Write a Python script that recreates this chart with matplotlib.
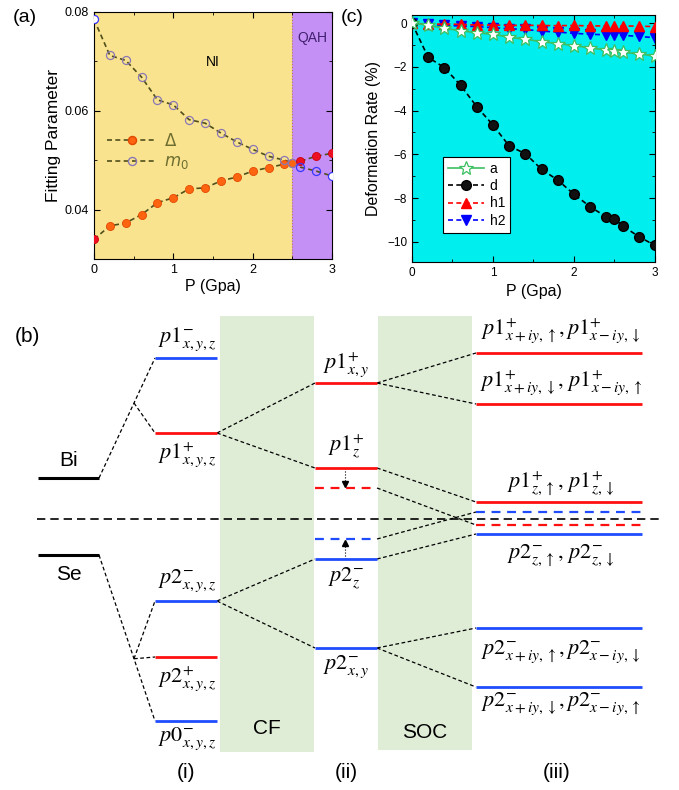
import matplotlib
matplotlib.use('Agg')
import matplotlib.pyplot as plt
from matplotlib.lines import Line2D
from matplotlib.ticker import MultipleLocator

plt.rcParams['font.family'] = ['Liberation Sans', 'DejaVu Sans']

# ---------------- data: panel (a) ----------------
P_a = [0, 0.2, 0.4, 0.6, 0.8, 1.0, 1.2, 1.4, 1.6, 1.8, 2.0, 2.2, 2.4, 2.5, 2.6, 2.8, 3.0]
delta = [0.0340, 0.0367, 0.0373, 0.0390, 0.0414, 0.0424, 0.0442, 0.0444, 0.0458, 0.0466,
         0.0478, 0.0485, 0.0492, 0.0495, 0.0498, 0.0508, 0.0514]
m0 = [0.0785, 0.0712, 0.0702, 0.0668, 0.0622, 0.0612, 0.0582, 0.0575, 0.0555, 0.0537,
      0.0522, 0.0508, 0.0500, 0.0495, 0.0486, 0.0478, 0.0468]
P_transition = 2.5

# ---------------- data: panel (c) ----------------
P_c = [0, 0.2, 0.4, 0.6, 0.8, 1.0, 1.2, 1.4, 1.6, 1.8, 2.0, 2.2, 2.4, 2.5, 2.6, 2.8, 3.0]
rate_a = [0, -0.08, -0.23, -0.34, -0.43, -0.50, -0.64, -0.73, -0.84, -0.93, -1.02, -1.13,
          -1.22, -1.27, -1.33, -1.40, -1.50]
rate_d = [0, -1.56, -2.03, -2.84, -3.82, -4.66, -5.62, -5.97, -6.69, -7.18, -7.83, -8.40,
          -8.87, -8.96, -9.27, -9.77, -10.17]
rate_h1 = [0, -0.05, -0.03, -0.05, -0.08, -0.08, -0.10, -0.09, -0.10, -0.11, -0.10, -0.12,
           -0.12, -0.13, -0.12, -0.13, -0.15]
rate_h2 = [0, -0.05, -0.10, -0.12, -0.15, -0.20, -0.25, -0.28, -0.36, -0.40, -0.46, -0.50,
           -0.53, -0.55, -0.55, -0.60, -0.66]

# ---------------- data: panel (b) schematic (energy levels, pixel-y) ----------------
atom_names = ['Bi', 'Se']
atom_levels = [478, 555]
lev_i = [358, 433, 601, 657, 721]
lev_i_col = ['b', 'r', 'b', 'r', 'b']
lev_i_lab = [r'$p1^{-}_{x,y,z}$', r'$p1^{+}_{x,y,z}$', r'$p2^{-}_{x,y,z}$',
             r'$p2^{+}_{x,y,z}$', r'$p0^{-}_{x,y,z}$']
lev_i_off = [-19, 22, -20, 22, 18]
lev_ii = [383, 468, 488, 539, 559, 648]
lev_ii_col = ['r', 'r', 'r', 'b', 'b', 'b']
lev_ii_dash = [False, False, True, True, False, False]
lev_ii_lab = [r'$p1^{+}_{x,y}$', r'$p1^{+}_{z}$', None, None, r'$p2^{-}_{z}$', r'$p2^{-}_{x,y}$']
lev_ii_off = [-18, -21, 0, 0, 19, 19]
lev_iii = [353, 404, 502, 512, 525, 534, 628, 687]
lev_iii_col = ['r', 'r', 'r', 'b', 'r', 'b', 'b', 'b']
lev_iii_dash = [False, False, False, True, True, False, False, False]
lev_iii_lab = [r'$p1^{+}_{x+iy,\uparrow},p1^{+}_{x-iy,\downarrow}$',
               r'$p1^{+}_{x+iy,\downarrow},\,p1^{+}_{x-iy,\uparrow}$',
               r'$p1^{+}_{z,\uparrow},\,p1^{+}_{z,\downarrow}$', None, None,
               r'$p2^{-}_{z,\uparrow},\,p2^{-}_{z,\downarrow}$',
               r'$p2^{-}_{x+iy,\uparrow},p2^{-}_{x-iy,\downarrow}$',
               r'$p2^{-}_{x+iy,\downarrow},p2^{-}_{x-iy,\uparrow}$']
lev_iii_off = [-22, -21, -19, 0, 0, 21, 24, 17]
# connections i -> ii   (index in i, index in ii)
conn_i_ii = [(1, 0), (1, 1), (2, 4), (2, 5)]
# connections ii -> iii
conn_ii_iii = [(0, 0), (0, 1), (1, 2), (2, 4), (3, 3), (4, 5), (5, 6), (5, 7)]
col_labels = ['(i)', '(ii)', '(iii)']
band_labels = ['CF', 'SOC']

# ---------------- figure ----------------
W, H = 679, 790
fig = plt.figure(figsize=(W / 100, H / 100), dpi=100)

# ===== panel (b) : schematic in pixel coordinates =====
axb = fig.add_axes([0, 0, 1, 1], zorder=0)
axb.set_xlim(0, W)
axb.set_ylim(H, 0)
axb.axis('off')
RED = '#ff1010'
BLUE = '#1f4cff'
cmap = {'r': RED, 'b': BLUE}
GREEN = '#e0edd6'
atom_x = (38, 99)
xi = (155, 217)
xii = (315, 377)
xiii = (476, 642)
split_x = 134
dash_k = dict(color='k', lw=0.9, ls=(0, (3, 2)))
lab_kw = dict(fontsize=16, math_fontfamily='stix', ha='center', va='center')

# bands
axb.add_patch(plt.Rectangle((220, 316), 94, 436, color=GREEN, zorder=0, lw=0))
axb.add_patch(plt.Rectangle((378, 316), 94, 434, color=GREEN, zorder=0, lw=0))
axb.text(267, 729, band_labels[0], fontsize=15, ha='center', va='center')
axb.text(425, 733, band_labels[1], fontsize=15, ha='center', va='center')

# Fermi-level dashed line
axb.plot([37, 663], [519, 519], color='k', lw=1.2, ls=(0, (5, 3)), zorder=3)

# atoms
for name, y in zip(atom_names, atom_levels):
    axb.plot(atom_x, [y, y], color='k', lw=2.2, solid_capstyle='butt', zorder=4)
    dy = -17 if name == 'Bi' else 19
    axb.text((atom_x[0] + atom_x[1]) / 2, y + dy, name,
             fontsize=15, ha='center', va='center')

# Bi -> p1-, branch to p1+ ; Se -> p0-, branches to p2-, p2+
def split(y0, y_end):
    return y0 + (y_end - y0) * (split_x - atom_x[1]) / (xi[0] - atom_x[1])

yb = split(atom_levels[0], lev_i[0])
axb.plot([atom_x[1], xi[0]], [atom_levels[0], lev_i[0]], **dash_k)
axb.plot([split_x, xi[0]], [yb, lev_i[1]], **dash_k)
ys = split(atom_levels[1], lev_i[4])
axb.plot([atom_x[1], xi[0]], [atom_levels[1], lev_i[4]], **dash_k)
axb.plot([split_x, xi[0]], [ys, lev_i[2]], **dash_k)
axb.plot([split_x, xi[0]], [ys, lev_i[3]], **dash_k)

# column i
for y, c, lab, off in zip(lev_i, lev_i_col, lev_i_lab, lev_i_off):
    axb.plot(xi, [y, y], color=cmap[c], lw=2, solid_capstyle='butt', zorder=4)
    axb.text((xi[0] + xi[1]) / 2 + 1, y + off, lab, **lab_kw)

# column ii
for y, c, dsh, lab, off in zip(lev_ii, lev_ii_col, lev_ii_dash, lev_ii_lab, lev_ii_off):
    ls = (0, (4, 3)) if dsh else '-'
    axb.plot(xii, [y, y], color=cmap[c], lw=1.6 if dsh else 2, ls=ls,
             solid_capstyle='butt', zorder=4)
    if lab:
        axb.text((xii[0] + xii[1]) / 2, y + off, lab, **lab_kw)

# column iii
for y, c, dsh, lab, off in zip(lev_iii, lev_iii_col, lev_iii_dash, lev_iii_lab, lev_iii_off):
    ls = (0, (4, 3)) if dsh else '-'
    axb.plot(xiii, [y, y], color=cmap[c], lw=1.6 if dsh else 2, ls=ls,
             solid_capstyle='butt', zorder=4)
    if lab:
        axb.text((xiii[0] + xiii[1]) / 2 + 2, y + off, lab, **lab_kw)

# connectors
for a, b in conn_i_ii:
    axb.plot([xi[1], xii[0]], [lev_i[a], lev_ii[b]], **dash_k)
for a, b in conn_ii_iii:
    axb.plot([xii[1], xiii[0]], [lev_ii[a], lev_iii[b]], **dash_k)

# small arrows in column ii
ax_x = 345
axb.plot([ax_x, ax_x], [lev_ii[1], lev_ii[2] - 5], color='k', lw=0.8, ls=':')
axb.plot([ax_x], [lev_ii[2] - 4], marker='v', color='k', ms=5, zorder=5)
axb.plot([ax_x, ax_x], [lev_ii[4], lev_ii[3] + 5], color='k', lw=0.8, ls=':')
axb.plot([ax_x], [lev_ii[3] + 4], marker='^', color='k', ms=5, zorder=5)

# column labels
for x, t in zip([186, 346, 557], col_labels):
    axb.text(x, 773, t, fontsize=15, ha='center', va='center')
axb.text(27, 336, '(b)', fontsize=15, ha='center', va='center')

# ===== panel (a) =====
axa = fig.add_axes([94 / W, 1 - 259 / H, 238 / W, 247 / H], zorder=2)
axa.set_xlim(0, 3)
axa.set_ylim(0.03, 0.08)
axa.axvspan(0, P_transition, color='#fae38e', lw=0, zorder=0)
axa.axvspan(P_transition, 3, color='#c590f6', lw=0, zorder=0)
axa.axvline(P_transition, color='#c08040', lw=0.8, ls=':', zorder=1)
line_c = '#4f4f1c'
axa.plot(P_a, delta, color=line_c, lw=1.2, ls=(0, (3, 2)), zorder=2)
axa.plot(P_a, m0, color=line_c, lw=1.2, ls=(0, (3, 2)), zorder=2)
for x, yd, ym in zip(P_a, delta, m0):
    special = (x == 0) or (x > P_transition)
    fc = '#ee1022' if special else '#ff6410'
    ec = '#cc0010' if special else '#e04800'
    axa.plot([x], [yd], 'o', ms=5.8, mfc=fc, mec=ec, mew=0.6, zorder=3)
    mc = '#3838ff' if special else '#8a78b4'
    axa.plot([x], [ym], 'o', ms=5.8, mfc='white' if x in (0, 3.0) else 'none',
             mec=mc, mew=0.9, zorder=3)
axa.text(1.5, 0.0698, 'NI', fontsize=10, ha='center', va='center')
axa.text(2.75, 0.0747, 'QAH', fontsize=10, ha='center', va='center', color='#40206e')
hd = Line2D([], [], color=line_c, lw=1.2, ls=(0, (3, 2)), marker='o', ms=5.8,
            mfc='#ff6410', mec='#e04800')
hm = Line2D([], [], color=line_c, lw=1.2, ls=(0, (3, 2)), marker='o', ms=5.8,
            mfc='none', mec='#8a78b4')
leg = axa.legend([hd, hm], [r'$\mathit{\Delta}$', r'$m_0$'], loc='center left',
                 bbox_to_anchor=(0.055, 0.435), frameon=False, handlelength=3.0,
                 fontsize=12, labelspacing=0.35, handletextpad=0.4,
                 borderpad=0, borderaxespad=0)
for t in leg.get_texts():
    t.set_color('#6e6e30')
axa.xaxis.set_major_locator(MultipleLocator(1))
axa.xaxis.set_minor_locator(MultipleLocator(0.5))
axa.yaxis.set_major_locator(MultipleLocator(0.02))
axa.yaxis.set_minor_locator(MultipleLocator(0.01))
axa.tick_params(which='both', direction='in', top=True, right=True, labelsize=9)
axa.tick_params(which='major', length=4)
axa.tick_params(which='minor', length=2.5)
axa.set_xlabel('P (Gpa)', fontsize=11.5, labelpad=2)
axa.set_ylabel('Fitting Parameter', fontsize=12.5, labelpad=3)
fig.text(25 / W, 1 - 17 / H, '(a)', fontsize=14, ha='center', va='center')

# ===== panel (c) =====
axc = fig.add_axes([412 / W, 1 - 262 / H, 243 / W, 247 / H], zorder=2)
axc.set_facecolor('#00eeee')
axc.set_xlim(0, 3)
axc.set_ylim(-10.93, 0.38)
axc.plot(P_c, rate_h2, color='#0000ff', lw=1.2, ls=(0, (3, 2)), marker='v', ms=7,
         mfc='#0000ff', mec='#0000ff', zorder=2, label='h2')
axc.plot(P_c, rate_h1, color='#ff0000', lw=1.2, ls=(0, (3, 2)), marker='^', ms=7,
         mfc='#ff0000', mec='#ff0000', zorder=3, label='h1')
axc.plot(P_c, rate_d, color='k', lw=1.2, ls=(0, (3, 2)), marker='o', ms=7,
         mfc='#111111', mec='#000000', zorder=4, label='d')
axc.plot(P_c, rate_a, color='#3cc060', lw=1.2, ls='-', marker='*', ms=10,
         mfc='white', mec='#3cc060', mew=0.9, zorder=5, label='a')
h, l = axc.get_legend_handles_labels()
legc = axc.legend(h[::-1], l[::-1], loc='lower left', bbox_to_anchor=(0.1, 0.09),
                  fancybox=False, edgecolor='k', framealpha=1, fontsize=10,
                  handlelength=2.6, borderpad=0.35, labelspacing=0.25, handletextpad=0.4)
legc.get_frame().set_linewidth(0.8)
axc.xaxis.set_major_locator(MultipleLocator(1))
axc.xaxis.set_minor_locator(MultipleLocator(0.5))
axc.yaxis.set_major_locator(MultipleLocator(2))
axc.yaxis.set_minor_locator(MultipleLocator(1))
axc.tick_params(which='both', direction='in', top=True, right=True, labelsize=8.5)
axc.tick_params(which='major', length=4)
axc.tick_params(which='minor', length=2.5)
axc.set_xlabel('P (Gpa)', fontsize=11.5, labelpad=4)
axc.set_ylabel('Deformation Rate (%)', fontsize=11.5, labelpad=4)
fig.text(352 / W, 1 - 17 / H, '(c)', fontsize=14, ha='center', va='center')

fig.savefig('out.png', dpi=100)
